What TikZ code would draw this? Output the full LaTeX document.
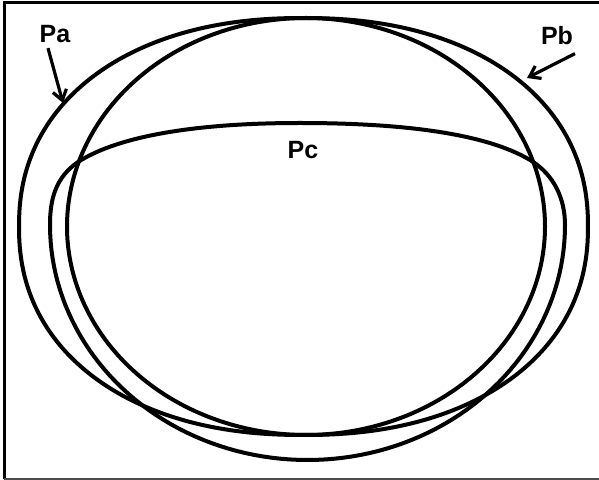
\documentclass[tikz,border=0pt]{standalone}
\usepackage{fontspec}
\setmainfont{Liberation Sans}
\usetikzlibrary{arrows.meta}
\begin{document}
\begin{tikzpicture}[x=0.5pt,y=-0.5pt,
  curve/.style={line width=2pt, black},
  lbl/.style={font=\fontsize{12.5}{15}\selectfont\bfseries, inner sep=1pt},
  pointer/.style={line width=1.6pt, -{Straight Barb[length=5pt,width=7pt]}},
  frameline/.style={line width=1.5pt}]
\useasboundingbox (0,0) rectangle (599,480);
% frame
\draw[frameline] (599,3) -- (4,3) -- (4,479);
\draw[line width=1pt, black!70] (4,479) -- (599,479);
% Pa : wide rounded oval
\draw[curve] plot[domain=1:358, samples=120, smooth cycle]
  ({303.5+284.5*cos(\x)*pow(abs(cos(\x)),-0.0909)},
   {226.5+208.5*sin(\x)*pow(abs(sin(\x)),-0.0909)});
% Pb : narrower ellipse
\draw[curve] plot[domain=0:357, samples=120, smooth cycle]
  ({306+239*cos(\x)}, {226.5+208.5*sin(\x)});
% Pc : flattened top, deep bottom
\draw[curve] (50,225) .. controls (50,200) and (55,178) .. (78,162)
  .. controls (120,135) and (200,123) .. (300,123)
  .. controls (400,123) and (485,133) .. (530,160)
  .. controls (555,175) and (565,200) .. (565,225)
  -- plot[domain=0:180, samples=91] ({307.5+257.5*cos(\x)},{225+235*sin(\x)}) -- cycle;
% labels
\node[lbl] (pa) at (55,34) {Pa};
\node[lbl] (pb) at (557,36) {Pb};
\node[lbl] (pc) at (303,150) {Pc};
\coordinate (paTip) at (63,103);
\coordinate (pbTip) at (527,78);
\draw[pointer] ([xshift=-3.5pt,yshift=-1.5pt]pa.south) -- (paTip);
\draw[pointer] ([xshift=9pt,yshift=-3pt]pb.south) -- (pbTip);
\end{tikzpicture}
\end{document}
